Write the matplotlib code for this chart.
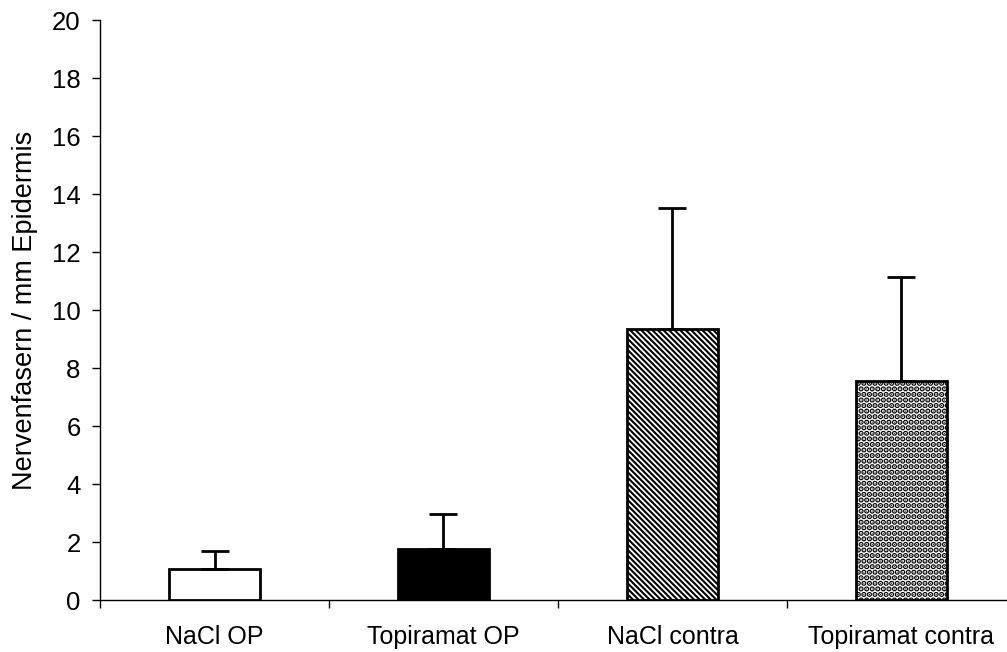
import matplotlib.pyplot as plt
import numpy as np

plt.rcParams["font.family"] = ["Liberation Sans", "DejaVu Sans"]
plt.rcParams["hatch.linewidth"] = 1.5

groups = ["NaCl OP", "Topiramat OP", "NaCl contra", "Topiramat contra"]
means = [1.08, 1.75, 9.35, 7.55]
errors = [0.60, 1.22, 4.17, 3.58]
fills = ["white", "black", "white", "white"]
hatches = [None, None, chr(92) * 6, "..."]
hatch_lw = [1.5, 1.5, 1.5, 2.8]

fig = plt.figure(figsize=(10.07, 6.52), dpi=100)
ax = fig.add_axes([100 / 1007, 52 / 652, 916 / 1007, 580 / 652])

x = np.arange(len(groups)) + 0.5
bars = ax.bar(x, means, width=0.4, color=fills, edgecolor="black", linewidth=2,
              yerr=[np.zeros(len(errors)), errors],
              error_kw=dict(ecolor="black", elinewidth=2, capsize=10, capthick=2),
              zorder=3)
for b, h, lw in zip(bars, hatches, hatch_lw):
    if h:
        b.set_hatch(h)
        if hasattr(b, "set_hatch_linewidth"):
            b.set_hatch_linewidth(lw)

ax.set_xlim(0, 4)
ax.set_ylim(0, 20)
ax.set_yticks(np.arange(0, 21, 2))
ax.set_xticks(np.arange(0, 5))
ax.set_xticklabels([])
ax.set_xticks(x, minor=True)
ax.set_xticklabels(groups, minor=True)
ax.tick_params(axis="x", which="major", direction="out", length=6, width=1)
ax.tick_params(axis="x", which="minor", length=0, pad=18, labelsize=18)
ax.tick_params(axis="y", direction="out", length=6, width=1, pad=8, labelsize=18.5)

for s in ["top", "right"]:
    ax.spines[s].set_visible(False)
for s in ["left", "bottom"]:
    ax.spines[s].set_linewidth(1)

ax.set_ylabel("Nervenfasern / mm Epidermis", fontsize=19.5, labelpad=10)

fig.savefig("out.png", dpi=100)
